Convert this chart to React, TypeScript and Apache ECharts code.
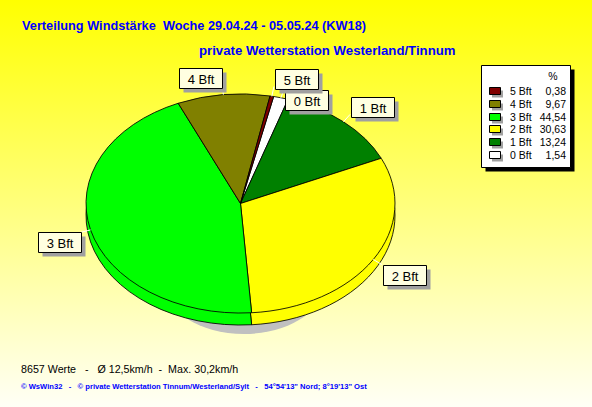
import React, { useEffect, useRef } from 'react';
import * as echarts from 'echarts';

// ---------- data ----------
const categories = ['5 Bft', '4 Bft', '3 Bft', '2 Bft', '1 Bft', '0 Bft'];
const percents = [0.38, 9.67, 44.54, 30.63, 13.24, 1.54];
const percentTexts = ['0,38', '9,67', '44,54', '30,63', '13,24', '1,54'];
const colors = ['#800000', '#808000', '#00ff00', '#ffff00', '#008000', '#ffffff'];
const pieOrder = [5, 4, 3, 2, 1, 0]; // clockwise drawing order
const titleLines = ['Verteilung Windstärke  Woche 29.04.24 - 05.05.24 (KW18)', 'private Wetterstation Westerland/Tinnum'];
const statsText = '8657 Werte   -   Ø 12,5km/h  -  Max. 30,2km/h';
const footerText = '© WsWin32   -   © private Wetterstation Tinnum/Westerland/Sylt   -   54°54\'13" Nord; 8°19\'13" Ost';
const percentHeader = '%';

// ---------- layout ----------
const W = 592;
const H = 407;
const CX = 240.5;
const CY = 203.5;
const RX = 154.5;
const RY = 109.5;
const DEPTH = 12;
const START_DEG = 12.4; // clockwise from 12 o'clock
const LABEL_DIST = 10;
const FONT = '"Liberation Sans", Arial, sans-serif';

const toRad = (d: number) => (d * Math.PI) / 180;

function buildSlices() {
  const total = percents.reduce((a, b) => a + b, 0);
  let acc = START_DEG;
  return pieOrder.map((i) => {
    const span = (percents[i] / total) * 360;
    const s = { i, a0: acc, a1: acc + span };
    acc += span;
    return s;
  });
}

function measure(text: string, font: string) {
  const c = document.createElement('canvas').getContext('2d');
  if (!c) return text.length * 7;
  c.font = font;
  return c.measureText(text).width;
}

function buildLabels(slices: { i: number; a0: number; a1: number }[]) {
  const labs = slices.map((s) => {
    const mid = toRad((s.a0 + s.a1) / 2);
    const sn = Math.sin(mid);
    const cs = Math.cos(mid);
    const px = CX + RX * sn;
    const py = CY - RY * cs;
    const ax = CX + (RX + LABEL_DIST) * sn;
    const ay = CY - (RY + LABEL_DIST) * cs;
    const w = Math.round(measure(categories[s.i], '13px ' + FONT) + 16);
    const h = 20;
    const left = sn >= 0 ? ax + 1 : ax - w;
    const top = cs > 0 ? ay + 3 - h : ay;
    return { i: s.i, px, py, ax, ay, w, h, left, top, right: sn >= 0 };
  });
  // simple collision avoidance: push down
  const sorted = [...labs].sort((a, b) => a.top - b.top);
  for (let k = 1; k < sorted.length; k++) {
    for (let j = 0; j < k; j++) {
      const a = sorted[j];
      const b = sorted[k];
      const hOverlap = a.left < b.left + b.w && b.left < a.left + a.w;
      if (hOverlap && b.top < a.top + a.h + 1 && b.top + b.h > a.top) {
        b.top = a.top + a.h + 1;
      }
    }
  }
  return labs;
}

export default function App() {
  const ref = useRef<HTMLDivElement>(null);

  useEffect(() => {
    if (!ref.current) return;
    const chart = echarts.init(ref.current, undefined, { renderer: 'svg' });
    const slices = buildSlices();
    const labels = buildLabels(slices);
    const k = RY / RX;

    const sectorSeries = (offset: number, z: number) => ({
      type: 'custom',
      coordinateSystem: 'none',
      silent: true,
      z,
      data: pieOrder.map((i) => ({ name: categories[i], value: percents[i] })),
      renderItem: (params: any) => {
        const s = slices[params.dataIndex];
        return {
          type: 'group',
          x: CX,
          y: CY + offset,
          scaleY: k,
          children: [
            {
              type: 'sector',
              shape: {
                cx: 0,
                cy: 0,
                r: RX,
                r0: 0,
                startAngle: toRad(s.a0 - 90),
                endAngle: toRad(s.a1 - 90),
                clockwise: true,
              },
              style: { fill: colors[s.i], stroke: '#000', lineWidth: 1, strokeNoScale: true },
            },
          ],
        };
      },
    });

    const labelSeries = {
      type: 'custom',
      coordinateSystem: 'none',
      silent: true,
      z: 5,
      data: pieOrder.map((i) => ({ name: categories[i], value: percents[i] })),
      renderItem: (params: any) => {
        const L = labels[params.dataIndex];
        const l = Math.round(L.left) + 0.5;
        const t = Math.round(L.top) + 0.5;
        const ly = Math.min(Math.max(L.ay, L.top), L.top + L.h);
        return {
          type: 'group',
          children: [
            {
              type: 'line',
              shape: { x1: L.px, y1: L.py, x2: L.ax, y2: ly },
              style: { stroke: '#ffffff', lineWidth: 1 },
            },
            {
              type: 'rect',
              shape: { x: l + 4, y: t + 4, width: L.w, height: L.h },
              style: { fill: '#a0a0a0' },
            },
            {
              type: 'rect',
              shape: { x: l, y: t, width: L.w, height: L.h },
              style: { fill: '#ffffe1', stroke: '#000', lineWidth: 1 },
            },
            {
              type: 'text',
              style: {
                text: categories[L.i],
                x: l + L.w / 2,
                y: t + L.h / 2 + 0.5,
                font: '13px ' + FONT,
                fill: '#000',
                align: 'center',
                verticalAlign: 'middle',
                textAlign: 'center',
                textVerticalAlign: 'middle',
              },
            },
          ],
        };
      },
    };

    const txt = (text: string, x: number, y: number, font: string, fill: string, align = 'left') => ({
      type: 'text',
      z: 20,
      style: {
        text,
        x,
        y,
        font,
        fill,
        align,
        verticalAlign: 'middle',
        textAlign: align,
        textVerticalAlign: 'middle',
      },
    });

    // legend
    const LG = { x: 481.5, y: 65.5, w: 89, h: 102 };
    const legendEls: any[] = [
      { type: 'rect', z: 19, shape: { x: LG.x + 4, y: LG.y + 4, width: LG.w, height: LG.h }, style: { fill: '#000' } },
      { type: 'rect', z: 19, shape: { x: LG.x, y: LG.y, width: LG.w, height: LG.h }, style: { fill: '#fff', stroke: '#000', lineWidth: 1 } },
      txt(percentHeader, 553, 75.5, '10.5px ' + FONT, '#000', 'center'),
    ];
    categories.forEach((c, r) => {
      const yc = 91 + r * 12.8;
      legendEls.push(
        { type: 'rect', z: 20, shape: { x: 492, y: Math.round(yc) - 3.5 + 3, width: 11, height: 7 }, style: { fill: '#a0a0a0' } },
        { type: 'rect', z: 21, shape: { x: 489.5, y: Math.round(yc) - 3.5, width: 11, height: 7 }, style: { fill: colors[r], stroke: '#000', lineWidth: 1 } },
        txt(c, 510, yc, '10.5px ' + FONT, '#000', 'left'),
        txt(percentTexts[r], 566, yc, '10.5px ' + FONT, '#000', 'right')
      );
    });

    chart.setOption({
      animation: false,
      graphic: {
        elements: [
          {
            type: 'rect',
            z: -10,
            shape: { x: 0, y: 0, width: W, height: H },
            style: {
              fill: {
                type: 'linear',
                x: 0,
                y: 0,
                x2: 0,
                y2: 1,
                colorStops: [
                  { offset: 0, color: '#ffff00' },
                  { offset: 1, color: '#fffff6' },
                ],
              },
            },
          },
          { type: 'ellipse', z: -5, shape: { cx: 244, cy: 283, rx: 80, ry: 51 }, style: { fill: '#c0c0c0' } },
          txt(titleLines[0], 22, 25, 'bold 12.75px ' + FONT, '#0000ff'),
          txt(titleLines[1], 199, 50, 'bold 13.2px ' + FONT, '#0000ff'),
          txt(statsText, 21, 369, '10.7px ' + FONT, '#000'),
          txt(footerText, 21, 386, 'bold 7.6px ' + FONT, '#0000ff'),
          ...legendEls,
        ],
      },
      series: [sectorSeries(DEPTH, 2), sectorSeries(0, 3), labelSeries],
    } as any);

    return () => chart.dispose();
  }, []);

  return <div ref={ref} style={{ position: 'absolute', left: 0, top: 0, width: W, height: H }} />;
}
